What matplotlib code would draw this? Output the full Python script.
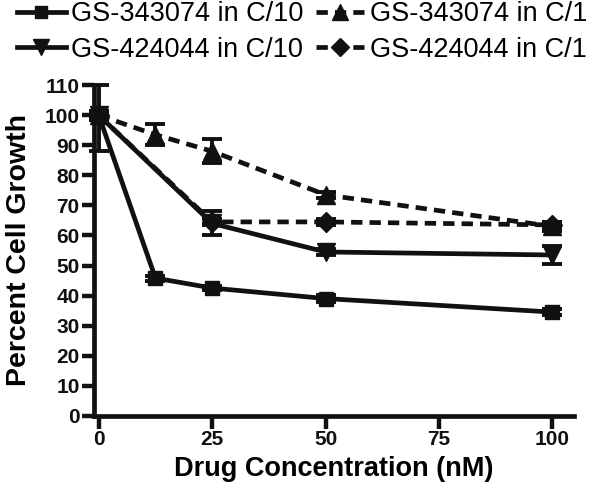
import matplotlib
matplotlib.use("Agg")
import matplotlib.pyplot as plt
from matplotlib.lines import Line2D

plt.rcParams["font.family"] = ["Liberation Sans", "DejaVu Sans"]

# data
conc_a = [0, 12.5, 25, 50, 100]
conc_b = [0, 25, 50, 100]

gs343_c10 = [100, 45.8, 42.5, 39, 34.5]
gs343_c10_lo = [12, 0.8, 0.8, 1.2, 1.0]
gs343_c10_hi = [10, 0.8, 0.8, 1.2, 1.0]

gs343_c1 = [100, 93.5, 88, 73.5, 63]
gs343_c1_err = [1.5, 3.5, 4, 1.0, 1.5]

gs424_c10 = [100, 64, 54.5, 53.5]
gs424_c10_err = [1.5, 4, 1.0, 3]

gs424_c1 = [100, 64.5, 64.5, 63.5]
gs424_c1_err = [1.0, 1.0, 1.0, 1.0]

labels = ["GS-343074 in C/10", "GS-343074 in C/1", "GS-424044 in C/10", "GS-424044 in C/1"]

x_ticks = [0, 25, 50, 75, 100]
y_ticks = list(range(0, 111, 10))

INK = "#111111"
dash = (0, (2.4, 1.5))

fig = plt.figure(figsize=(6.0, 4.95), dpi=100)
ax = fig.add_axes([0.157, 0.16, 0.80, 0.668])

common = dict(color=INK, lw=3.4, capsize=7, elinewidth=2.8, capthick=2.8, clip_on=False)

ax.errorbar(conc_a, gs343_c10, yerr=[gs343_c10_lo, gs343_c10_hi], marker="s", ms=10, ls="-", **common)
ax.errorbar(conc_a, gs343_c1, yerr=gs343_c1_err, marker="^", ms=13, ls=dash, **common)
ax.errorbar(conc_b, gs424_c10, yerr=gs424_c10_err, marker="v", ms=13, ls="-", **common)
ax.errorbar(conc_b, gs424_c1, yerr=gs424_c1_err, marker="D", ms=10, ls=dash, **common)

ax.set_xlim(-1, 104.8)
ax.set_ylim(0, 110)
ax.set_xticks(x_ticks)
ax.set_yticks(y_ticks)
for s in ["top", "right"]:
    ax.spines[s].set_visible(False)
for s in ["left", "bottom"]:
    ax.spines[s].set_linewidth(3.4)
    ax.spines[s].set_color(INK)
ax.tick_params(width=3.2, length=9, labelsize=15, colors=INK, pad=1.5)
for t in ax.get_xticklabels() + ax.get_yticklabels():
    t.set_fontweight("bold")

ax.set_xlabel("Drug Concentration (nM)", fontsize=19.5, fontweight="bold", labelpad=5)
ax.set_ylabel("Percent Cell Growth", fontsize=20.5, fontweight="bold")
ax.yaxis.set_label_coords(-0.13, 0.5)

# legend handles without error bars, row order like the reference
handles = [
    Line2D([], [], color=INK, lw=3.4, marker="s", ms=9, ls="-"),
    Line2D([], [], color=INK, lw=3.4, marker="^", ms=11, ls=dash),
    Line2D([], [], color=INK, lw=3.4, marker="v", ms=11, ls="-"),
    Line2D([], [], color=INK, lw=3.4, marker="D", ms=9, ls=dash),
]
order = [0, 2, 1, 3]
fig.legend([handles[i] for i in order], [labels[i] for i in order], loc="upper left",
           bbox_to_anchor=(0.028, 0.997), ncol=2, frameon=False, fontsize=19.5,
           borderpad=0, borderaxespad=0, handlelength=1.8, handletextpad=0.2,
           columnspacing=0.45, labelspacing=0.35)

fig.savefig("out.png", dpi=100)
